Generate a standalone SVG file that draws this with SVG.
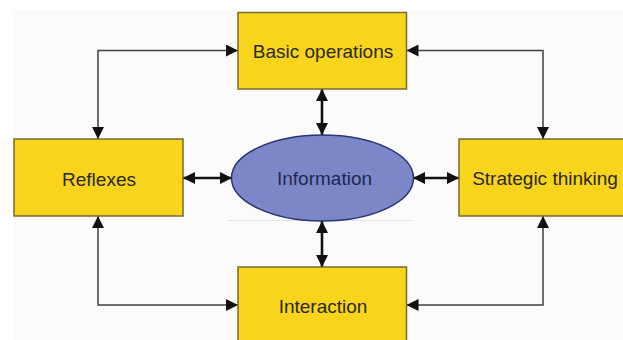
<svg xmlns="http://www.w3.org/2000/svg" width="623" height="340" viewBox="0 0 623 340">
  <defs>
    <style>
      .box { fill: #f8d41c; stroke: #7a6a30; stroke-width: 1.5; }
      .ell { fill: #7b87c9; stroke: #2b3570; stroke-width: 1.5; }
      .lbl { font-family: "Liberation Sans", Arial, sans-serif; font-size: 19px; fill: #2a2a22; text-anchor: middle; }
      .ilbl { fill: #1f2850; }
      .thin { fill: none; stroke: #404040; stroke-width: 1.5; marker-start: url(#tri); marker-end: url(#tri); }
      .thick { fill: none; stroke: #111; stroke-width: 2.6; marker-start: url(#tri2); marker-end: url(#tri2); }
    </style>
    <marker id="tri" markerUnits="userSpaceOnUse" viewBox="0 0 12 12" markerWidth="12" markerHeight="12" refX="12" refY="6" orient="auto-start-reverse">
      <path d="M0,0 L12,6 L0,12 z" fill="#111"/>
    </marker>
    <marker id="tri2" markerUnits="userSpaceOnUse" viewBox="0 0 12 12" markerWidth="12" markerHeight="12" refX="12" refY="6" orient="auto-start-reverse">
      <path d="M0,0 L12,6 L0,12 z" fill="#111"/>
    </marker>
  </defs>
  <rect x="0" y="0" width="623" height="340" fill="#ffffff"/>
  <rect x="13" y="10" width="610" height="330" fill="#fbfbfb"/>
  <line x1="228" y1="220.5" x2="413" y2="220.5" stroke="#e2e2e2" stroke-width="1"/>

  <g id="connectors">
    <path class="thin" d="M98,139 L98,50.5 L238,50.5"/>
    <path class="thin" d="M406.5,50.5 L543,50.5 L543,139"/>
    <path class="thin" d="M98,216 L98,305 L238,305"/>
    <path class="thin" d="M543,216 L543,305 L406.5,305"/>
    <path class="thick" d="M322,89 L322,135"/>
    <path class="thick" d="M322,221 L322,267"/>
    <path class="thick" d="M183,178 L232,178"/>
    <path class="thick" d="M413,178 L459,178"/>
  </g>

  <g id="basic-operations">
    <rect class="box" x="238" y="12.5" width="168.5" height="76.5"/>
    <text class="lbl" x="323" y="57.5">Basic operations</text>
  </g>
  <g id="reflexes">
    <rect class="box" x="14" y="139" width="169" height="77"/>
    <text class="lbl" x="99" y="185.5">Reflexes</text>
  </g>
  <g id="strategic-thinking">
    <rect class="box" x="459" y="139" width="172" height="77"/>
    <text class="lbl" x="545" y="185">Strategic thinking</text>
  </g>
  <g id="interaction">
    <rect class="box" x="238" y="267" width="168.5" height="80"/>
    <text class="lbl" x="323" y="312.5">Interaction</text>
  </g>
  <g id="information">
    <ellipse class="ell" cx="322.5" cy="178" rx="91" ry="43"/>
    <text class="lbl ilbl" x="324.5" y="185">Information</text>
  </g>
</svg>
